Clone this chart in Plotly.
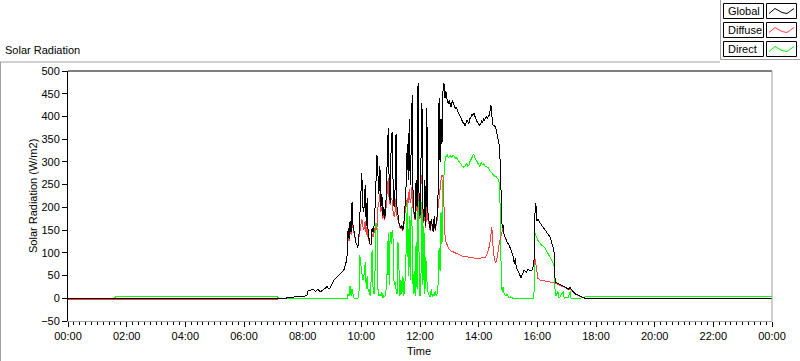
import pandas as pd
import plotly.graph_objects as go

# ---------------- data (minutes after midnight, W/m2) ----------------
time_min = [
    0, 95, 97, 200, 300, 428, 432, 444, 454, 468,
    475, 485, 489, 491, 497, 501, 507, 511, 516, 522,
    526, 530, 534, 536, 540, 544, 548, 552, 556, 561,
    565, 569, 571, 573, 575, 577, 579, 581, 583, 585,
    587, 589, 591, 593, 595, 597, 599, 601, 603, 605,
    608, 610, 612, 614, 616, 618, 620, 622, 624, 626,
    628, 630, 632, 634, 636, 638, 640, 642, 644, 646,
    648, 650, 653, 655, 657, 659, 661, 663, 665, 667,
    669, 671, 673, 675, 677, 679, 681, 683, 685, 687,
    689, 691, 694, 696, 698, 700, 702, 704, 706, 708,
    710, 712, 714, 716, 718, 720, 722, 724, 726, 728,
    730, 732, 734, 736, 739, 741, 743, 745, 747, 749,
    751, 753, 755, 757, 759, 761, 763, 765, 767, 769,
    771, 773, 776, 778, 780, 782, 784, 786, 788, 790,
    792, 794, 796, 798, 800, 802, 804, 806, 808, 810,
    812, 814, 816, 818, 820, 822, 824, 826, 828, 830,
    832, 834, 836, 838, 840, 842, 844, 846, 848, 850,
    852, 854, 856, 858, 860, 862, 865, 867, 869, 871,
    874, 876, 878, 880, 882, 884, 886, 888, 890, 892,
    896, 898, 902, 906, 910, 913, 915, 917, 921, 925,
    927, 929, 933, 937, 941, 945, 949, 953, 955, 957,
    959, 961, 966, 976, 986, 994, 996, 998, 1002, 1004,
    1006, 1013, 1015, 1017, 1023, 1027, 1029, 1031, 1037, 1047,
    1058, 1440,
]

global_wm2 = [
    0, 0, 0, 0, 0, 0, 0, 0, 2, 3,
    3, 5, 7, 16, 18, 20, 15, 20, 14, 18,
    22, 26, 20, 22, 30, 40, 44, 48, 52, 58,
    64, 80, 95, 155, 130, 170, 145, 211, 160, 145,
    130, 122, 118, 112, 135, 185, 240, 275, 200, 190,
    250, 160, 220, 140, 130, 118, 120, 155, 145, 160,
    200, 250, 315, 270, 230, 290, 200, 230, 180, 200,
    175, 200, 290, 374, 250, 210, 340, 366, 250, 200,
    240, 362, 200, 180, 165, 160, 155, 160, 150, 165,
    200, 230, 340, 260, 395, 250, 330, 448, 200, 190,
    175, 260, 200, 474, 230, 180, 300, 430, 200, 170,
    260, 160, 418, 190, 165, 150, 175, 160, 145, 180,
    150, 165, 180, 230, 440, 300, 395, 340, 455, 473,
    440, 455, 432, 430, 437, 425, 420, 435, 428, 425,
    418, 420, 412, 410, 405, 400, 396, 392, 386, 385,
    380, 385, 392, 388, 385, 395, 398, 405, 402, 408,
    398, 395, 390, 386, 383, 380, 384, 390, 388, 394,
    392, 398, 400, 396, 402, 404, 425, 395, 381, 380,
    378, 370, 360, 345, 337, 300, 220, 154, 160, 140,
    130, 123, 118, 105, 95, 75, 88, 68, 58, 48,
    44, 52, 62, 57, 64, 60, 62, 73, 185, 209,
    170, 175, 165, 150, 135, 105, 45, 35, 32, 31,
    30, 27, 26, 25, 20, 24, 20, 18, 10, 5,
    0, 0,
]

diffuse_wm2 = [
    -2, -2, -2, -2, -2, -2, 0, 0, 2, 3,
    3, 5, 7, 16, 18, 20, 15, 20, 14, 18,
    22, 26, 20, 22, 30, 40, 44, 48, 52, 58,
    64, 80, 95, 135, 125, 150, 140, 165, 155, 143,
    130, 122, 118, 112, 132, 150, 170, 175, 160, 150,
    170, 140, 160, 130, 125, 118, 118, 140, 135, 145,
    155, 150, 155, 200, 210, 230, 190, 200, 175, 190,
    172, 190, 230, 265, 215, 205, 220, 215, 190, 180,
    190, 220, 180, 170, 160, 155, 152, 155, 148, 160,
    185, 200, 220, 210, 240, 210, 220, 250, 190, 185,
    172, 210, 190, 250, 210, 175, 250, 270, 190, 165,
    210, 155, 240, 175, 160, 148, 170, 157, 145, 175,
    148, 160, 170, 200, 230, 240, 260, 270, 270, 200,
    140, 125, 115, 110, 108, 105, 104, 103, 102, 101,
    100, 99, 98, 97, 96, 94, 94, 93, 93, 92,
    92, 92, 91, 91, 90, 90, 89, 89, 89, 88,
    88, 88, 88, 88, 88, 88, 88, 88, 88, 88,
    89, 91, 95, 100, 108, 114, 140, 156, 120, 95,
    79, 82, 90, 110, 120, 130, 140, 150, 155, 140,
    130, 123, 118, 105, 95, 75, 88, 68, 58, 48,
    44, 52, 62, 57, 64, 60, 62, 73, 88, 75,
    60, 44, 40, 38, 36, 34, 33, 33, 30, 30,
    28, 26, 25, 24, 19, 21, 19, 17, 9, 4,
    0, 0,
]

direct_wm2 = [
    0, 0, 3, 3, 3, 3, -1, -1, -1, -1,
    -1, -1, -1, -1, -1, -1, -1, -1, -1, -1,
    -1, -1, -1, -1, -1, -1, -1, -1, -1, 0,
    0, 0, 0, 10, 5, 28, 5, 20, 5, 0,
    0, 0, 0, 0, 3, 95, 73, 60, 40, 45,
    79, 20, 50, 15, 20, 5, 40, 106, 20, 10,
    60, 165, 160, 20, 5, 10, 5, 13, 0, 5,
    3, 10, 60, 143, 30, 145, 120, 150, 132, 30,
    36, 20, 10, 123, 30, 5, 40, 10, 50, 5,
    30, 80, 211, 50, 182, 40, 200, 150, 10, 60,
    5, 123, 20, 264, 100, 5, 50, 211, 30, 160,
    10, 90, 40, 15, 5, 2, 20, 3, 10, 5,
    15, 5, 10, 30, 110, 60, 189, 120, 260, 270,
    300, 312, 315, 308, 312, 314, 310, 313, 315, 312,
    308, 310, 306, 305, 300, 297, 295, 292, 288, 290,
    291, 294, 296, 290, 293, 300, 305, 312, 316, 318,
    310, 306, 300, 296, 293, 290, 296, 298, 293, 296,
    292, 291, 290, 289, 287, 282, 278, 276, 272, 270,
    268, 267, 264, 262, 255, 200, 60, 13, 25, 10,
    5, 8, 2, 3, 0, -1, -1, -1, -1, -1,
    -1, -1, -1, -1, -1, -1, -1, -1, 143, 138,
    130, 128, 120, 110, 90, 73, 22, 5, 15, 0,
    2, 15, 0, 2, 1, 15, 0, 0, 0, 0,
    3, 3,
]

series_names = ["Global", "Diffuse", "Direct"]
series_colors = ["#000000", "#ff4040", "#00ff00"]
hour_tick_labels = ["00:00", "02:00", "04:00", "06:00", "08:00", "10:00", "12:00",
                    "14:00", "16:00", "18:00", "20:00", "22:00", "00:00"]

assert len(time_min) == len(global_wm2) == len(diffuse_wm2) == len(direct_wm2)

base = pd.Timestamp("2000-01-01")
x_time = [base + pd.Timedelta(minutes=m) for m in time_min]

FONT = "Liberation Sans, Arial, sans-serif"
series_vals = {"Global": global_wm2, "Diffuse": diffuse_wm2, "Direct": direct_wm2}
colors = dict(zip(series_names, series_colors))

fig = go.Figure()
for name in ["Direct", "Diffuse", "Global"]:
    fig.add_trace(go.Scatter(x=x_time, y=series_vals[name], mode="lines", name=name,
                             line=dict(color=colors[name], width=1), showlegend=False))

# geometry helpers (pixel -> paper)
L, T, W, H = 68, 71, 704, 250


def px(x):
    return (x - L) / W


def py(y):
    return (T + H - y) / H


shapes = []
grey = "#a0a0a0"
shapes.append(dict(type="line", xref="paper", yref="paper", x0=0, x1=1, y0=1, y1=1,
                   line=dict(color="black", width=1)))
shapes.append(dict(type="line", xref="paper", yref="paper", x0=1, x1=1, y0=0, y1=1,
                   line=dict(color=grey, width=1)))
shapes.append(dict(type="line", xref="paper", yref="paper", x0=px(0), x1=px(720),
                   y0=py(62), y1=py(62), line=dict(color=grey, width=1)))
shapes.append(dict(type="line", xref="paper", yref="paper", x0=px(0.5), x1=px(0.5),
                   y0=py(62), y1=py(361), line=dict(color=grey, width=1)))
shapes.append(dict(type="line", xref="paper", yref="paper", x0=px(720.5), x1=px(720.5),
                   y0=py(0), y1=py(59.5), line=dict(color=grey, width=1)))
shapes.append(dict(type="line", xref="paper", yref="paper", x0=px(720.5), x1=px(800),
                   y0=py(59.5), y1=py(59.5), line=dict(color=grey, width=1)))

annotations = []
row_tops = [3.5, 22.5, 41.5]
for name, top in zip(series_names, row_tops):
    col = colors[name]
    bot = top + 15
    shapes.append(dict(type="rect", xref="paper", yref="paper",
                       x0=px(723.5), x1=px(763.5), y0=py(bot), y1=py(top),
                       line=dict(color="black", width=1)))
    shapes.append(dict(type="rect", xref="paper", yref="paper",
                       x0=px(766.5), x1=px(796.5), y0=py(bot), y1=py(top),
                       line=dict(color="black", width=1)))
    pts = [(769, top + 10), (775, top + 5), (782, top + 9), (787, top + 10), (794, top + 5)]
    path = "M " + " L ".join(f"{px(a):.5f},{py(b):.5f}" for a, b in pts)
    shapes.append(dict(type="path", xref="paper", yref="paper", path=path,
                       line=dict(color=col, width=1)))
    annotations.append(dict(text=name, xref="paper", yref="paper", x=px(726), y=py(top + 7.5),
                            xanchor="left", yanchor="middle", showarrow=False,
                            font=dict(family=FONT, size=11, color="black")))

annotations.append(dict(text="Solar Radiation", xref="paper", yref="paper", x=px(3), y=py(50),
                        xanchor="left", yanchor="middle", showarrow=False,
                        font=dict(family=FONT, size=11, color="black")))
annotations.append(dict(text="Time", xref="paper", yref="paper", x=px(419), y=py(351),
                        xanchor="center", yanchor="middle", showarrow=False,
                        font=dict(family=FONT, size=11, color="black")))
annotations.append(dict(text="Solar Radiation (W/m2)", xref="paper", yref="paper", x=px(33),
                        y=py(196), xanchor="center", yanchor="middle", textangle=-90,
                        showarrow=False, font=dict(family=FONT, size=11, color="black")))

tick_vals = [base + pd.Timedelta(hours=2 * i) for i in range(len(hour_tick_labels))]

fig.update_layout(
    width=800, height=361,
    margin=dict(l=L, r=800 - L - W, t=T, b=361 - T - H, pad=0),
    paper_bgcolor="white", plot_bgcolor="white",
    font=dict(family=FONT, size=11, color="black"),
    shapes=shapes, annotations=annotations,
    xaxis=dict(type="date", range=[base, base + pd.Timedelta(days=1)],
               tickmode="array", tickvals=tick_vals, ticktext=hour_tick_labels,
               ticks="outside", ticklen=5, tickwidth=1, tickcolor="black",
               showline=True, linecolor=grey, linewidth=1,
               showgrid=False, zeroline=False,
               minor=dict(dtick=720000, tick0=base, ticks="outside", ticklen=3,
                          tickwidth=1, tickcolor="black", showgrid=False),
               tickfont=dict(family=FONT, size=11, color="black")),
    yaxis=dict(range=[-50, 500], dtick=50, tick0=0,
               ticks="outside", ticklen=5, tickwidth=1, tickcolor="black",
               showline=True, linecolor="black", linewidth=1,
               showgrid=False, zeroline=False,
               tickfont=dict(family=FONT, size=11, color="black")),
)

fig.write_html(
    "out.html", config={"displayModeBar": False},
    post_script=("document.body.style.margin='0';"
                 "document.querySelectorAll('.scatterlayer path').forEach("
                 "function(p){p.style.shapeRendering='crispEdges';});"),
)
